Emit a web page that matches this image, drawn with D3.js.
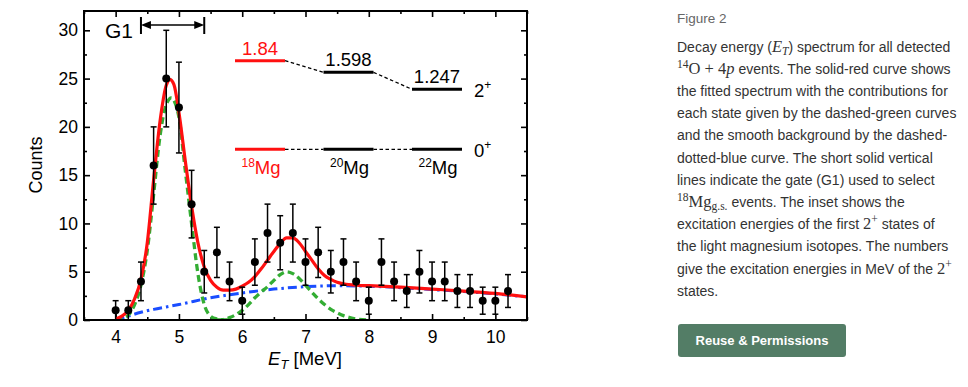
<!DOCTYPE html>
<html>
<head>
<meta charset="utf-8">
<script src="https://cdn.jsdelivr.net/npm/d3@7"></script>
<style>
  body { margin: 0; background: #fff; }
  #wrap { position: relative; width: 968px; height: 387px; overflow: hidden; }
  svg { position: absolute; left: 0; top: 0; }
  .cap { position: absolute; left: 677px; font-family: "Liberation Sans", Arial, sans-serif; color: #333; }
  .fig { font-size: 13.5px; color: #666; top: 11px; }
  .ln { font-size: 14px; white-space: nowrap; line-height: 16px; }
  .m { font-family: "Liberation Serif", "DejaVu Serif", serif; font-size: 16.5px; }
  .ln sup, .ln sub { font-size: 70%; line-height: 0; position: relative; vertical-align: baseline; }
  .ln sup { top: -0.5em; }
  .ln sub { top: 0.3em; }
  .btn { position: absolute; left: 678px; top: 324px; width: 168px; height: 33px; background: #537d66;
         border-radius: 3px; color: #fff; font: bold 13px "Liberation Sans", Arial, sans-serif;
         text-align: center; line-height: 33px; }
</style>
</head>
<body>
<div id="wrap">
  <svg id="chart" width="968" height="387"></svg>
  <div id="caption"></div>
  <div class="btn">Reuse &amp; Permissions</div>
</div>
<script>
// measured spectrum (counts per 0.2 MeV bin)
const energy = [4.0, 4.2, 4.4, 4.6, 4.8, 5.0, 5.2, 5.4, 5.6, 5.8, 6.0, 6.2, 6.4, 6.6, 6.8, 7.0,
                7.2, 7.4, 7.6, 7.8, 8.0, 8.2, 8.4, 8.6, 8.8, 9.0, 9.2, 9.4, 9.6, 9.8, 10.0, 10.2];
const counts = [1, 1, 4, 16, 25, 22, 12, 5, 7, 4, 2, 6, 9, 8, 9, 6,
                7, 5, 6, 4, 2, 6, 4, 3, 5, 4, 4, 3, 3, 2, 2, 3];
const errors = [1, 1, 2, 4, 5, 4.7, 3.5, 2.2, 2.6, 2, 1.4, 2.4, 3, 2.8, 3, 2.4,
                2.6, 2.2, 2.4, 2, 1.4, 2.4, 2, 1.7, 2.2, 2, 2, 1.7, 1.7, 1.4, 1.4, 1.7];

// total fit (solid red)
const fitX = [4.0, 4.1, 4.2, 4.3, 4.4, 4.5, 4.6, 4.7, 4.8, 4.86, 4.92, 5.0, 5.1, 5.2, 5.3, 5.4, 5.5,
              5.6, 5.7, 5.8, 5.9, 6.0, 6.1, 6.2, 6.3, 6.4, 6.5, 6.6, 6.7, 6.8, 6.9, 7.0, 7.1, 7.2,
              7.3, 7.4, 7.5, 7.6, 7.8, 8.0, 8.5, 9.0, 9.5, 10.0, 10.5];
const fitY = [0.1, 0.4, 1.0, 2.2, 4.2, 8.0, 14.5, 20.5, 24.3, 24.9, 24.4, 21.5, 16.5, 11.8, 8.0, 5.5, 4.1,
              3.4, 3.1, 3.1, 3.2, 3.5, 3.9, 4.5, 5.3, 6.2, 7.1, 7.9, 8.5, 8.5, 8.0, 7.1, 6.2, 5.3,
              4.6, 4.2, 3.9, 3.75, 3.6, 3.55, 3.4, 3.2, 3.0, 2.75, 2.4];

// ground-state component (dashed green)
const gsX = [4.0, 4.1, 4.2, 4.3, 4.4, 4.5, 4.6, 4.7, 4.8, 4.88, 4.95, 5.0, 5.1, 5.2, 5.3, 5.4, 5.5, 5.6, 5.7, 5.8];
const gsY = [0, 0.15, 0.5, 1.6, 3.6, 7.2, 13, 19, 22.3, 23, 22.3, 21, 15.5, 10, 4.8, 1.6, 0.4, 0.1, 0.02, 0];

// 2+ component (dashed green)
const exX = [5.6, 5.7, 5.8, 5.9, 6.0, 6.1, 6.2, 6.3, 6.4, 6.5, 6.6, 6.7, 6.8, 6.9, 7.0,
             7.1, 7.2, 7.3, 7.4, 7.5, 7.6, 7.7, 7.8, 7.9, 8.0];
const exY = [0, 0.05, 0.25, 0.55, 1.0, 1.6, 2.3, 2.9, 3.45, 4.1, 4.7, 5.0, 4.8, 4.3, 3.6,
             2.9, 2.2, 1.6, 1.1, 0.75, 0.45, 0.25, 0.1, 0.03, 0];

// smooth background (dash-dotted blue)
const bgX = [4.0, 4.2, 4.4, 4.6, 4.8, 5.0, 5.5, 6.0, 6.5, 7.0, 7.5, 8.0, 8.5, 9.0, 9.5, 10.0, 10.5];
const bgY = [0, 0.4, 0.8, 1.1, 1.35, 1.6, 2.3, 2.8, 3.2, 3.45, 3.55, 3.5, 3.35, 3.15, 2.95, 2.7, 2.4];

// gate G1
const gate = [4.4, 5.4];

// inset: first 2+ excitation energies (MeV)
const isotopes = ["18", "20", "22"];
const e2plus = [1.84, 1.598, 1.247];
const e2labels = ["1.84", "1.598", "1.247"];

const xTicks = [4, 5, 6, 7, 8, 9, 10];
const yTicks = [0, 5, 10, 15, 20, 25, 30];

const FONT = '"Liberation Sans", Arial, sans-serif';
const svg = d3.select('#chart');

const margin = { left: 84, top: 11, right: 527, bottom: 320 };
const x = d3.scaleLinear().domain([3.5, 10.5]).range([margin.left, margin.right]);
const y = d3.scaleLinear().domain([0, 32]).range([margin.bottom, margin.top]);

svg.append('defs').append('clipPath').attr('id', 'plot')
  .append('rect').attr('x', margin.left).attr('y', margin.top)
  .attr('width', margin.right - margin.left).attr('height', margin.bottom - margin.top);

// axes, ticks pointing inwards on every side
const minorX = d3.range(3.5, 10.51, 0.5).filter(v => v % 1 !== 0);
const minorY = d3.range(2.5, 32, 5);
const styleAxis = g => {
  g.select('.domain').remove();
  g.selectAll('line').attr('stroke', '#000').attr('stroke-width', 1.6);
  g.selectAll('text').attr('font-family', FONT).attr('font-size', 17.5).attr('fill', '#000');
};
svg.append('g').attr('transform', `translate(0,${margin.bottom})`)
  .call(d3.axisBottom(x).tickValues(xTicks).tickSize(-6).tickPadding(11).tickFormat(d3.format('d'))).call(styleAxis);
svg.append('g').attr('transform', `translate(0,${margin.bottom})`)
  .call(d3.axisBottom(x).tickValues(minorX).tickSize(-3).tickFormat('')).call(styleAxis);
svg.append('g').attr('transform', `translate(0,${margin.top})`)
  .call(d3.axisTop(x).tickValues(xTicks).tickSize(-6).tickFormat('')).call(styleAxis);
svg.append('g').attr('transform', `translate(0,${margin.top})`)
  .call(d3.axisTop(x).tickValues(minorX).tickSize(-3).tickFormat('')).call(styleAxis);
svg.append('g').attr('transform', `translate(${margin.left},0)`)
  .call(d3.axisLeft(y).tickValues(yTicks).tickSize(-6).tickPadding(6)).call(styleAxis);
svg.append('g').attr('transform', `translate(${margin.left},0)`)
  .call(d3.axisLeft(y).tickValues(minorY).tickSize(-3).tickFormat('')).call(styleAxis);
svg.append('g').attr('transform', `translate(${margin.right},0)`)
  .call(d3.axisRight(y).tickValues(yTicks).tickSize(-6).tickFormat('')).call(styleAxis);
svg.append('g').attr('transform', `translate(${margin.right},0)`)
  .call(d3.axisRight(y).tickValues(minorY).tickSize(-3).tickFormat('')).call(styleAxis);

// curves
const line = d3.line().curve(d3.curveMonotoneX).x(d => x(d[0])).y(d => y(d[1]));
const curves = svg.append('g').attr('clip-path', 'url(#plot)');
curves.append('path').attr('d', line(d3.zip(bgX, bgY)))
  .attr('fill', 'none').attr('stroke', '#1a4dff').attr('stroke-width', 3).attr('stroke-dasharray', '9,4,2.5,4');
[d3.zip(gsX, gsY), d3.zip(exX, exY)].forEach(pts => {
  curves.append('path').attr('d', line(pts))
    .attr('fill', 'none').attr('stroke', '#33ad33').attr('stroke-width', 3.3).attr('stroke-dasharray', '7,4');
});
curves.append('path').attr('d', line(d3.zip(fitX, fitY)))
  .attr('fill', 'none').attr('stroke', '#ff1010').attr('stroke-width', 3.2);

// data points with error bars
const pts = svg.append('g');
energy.forEach((e, i) => {
  const lo = y(Math.max(0, counts[i] - errors[i])), hi = y(counts[i] + errors[i]), cx = x(e);
  pts.append('line').attr('x1', cx).attr('x2', cx).attr('y1', lo).attr('y2', hi).attr('stroke', '#000').attr('stroke-width', 1.5);
  [lo, hi].forEach(v => pts.append('line').attr('x1', cx - 3).attr('x2', cx + 3).attr('y1', v).attr('y2', v)
    .attr('stroke', '#000').attr('stroke-width', 1.5));
  pts.append('circle').attr('cx', cx).attr('cy', y(counts[i])).attr('r', 4).attr('fill', '#000');
});

// frame
svg.append('rect').attr('x', margin.left).attr('y', margin.top)
  .attr('width', margin.right - margin.left).attr('height', margin.bottom - margin.top)
  .attr('fill', 'none').attr('stroke', '#000').attr('stroke-width', 2);

// axis titles
svg.append('text').attr('transform', 'translate(42,165) rotate(-90)').attr('text-anchor', 'middle')
  .attr('font-family', FONT).attr('font-size', 18).text('Counts');
const xt = svg.append('text').attr('x', 305).attr('y', 365).attr('text-anchor', 'middle')
  .attr('font-family', FONT).attr('font-size', 18.5);
xt.append('tspan').attr('font-style', 'italic').text('E');
xt.append('tspan').attr('font-style', 'italic').attr('font-size', 13).attr('dy', 4).text('T');
xt.append('tspan').attr('dy', -4).text(' [MeV]');

// gate G1 marker
const gy = 25;
svg.append('text').attr('x', 105).attr('y', 38).attr('font-family', FONT).attr('font-size', 21).text('G1');
gate.forEach(g => svg.append('line').attr('x1', x(g)).attr('x2', x(g)).attr('y1', 17).attr('y2', 34)
  .attr('stroke', '#000').attr('stroke-width', 2));
svg.append('line').attr('x1', x(gate[0]) + 4).attr('x2', x(gate[1]) - 4).attr('y1', gy).attr('y2', gy)
  .attr('stroke', '#000').attr('stroke-width', 1.6);
svg.append('path').attr('d', `M${x(gate[0])},${gy} l10,-4 v8 z`).attr('fill', '#000');
svg.append('path').attr('d', `M${x(gate[1])},${gy} l-10,-4 v8 z`).attr('fill', '#000');

// inset level scheme
const ix = d3.scaleBand().domain(isotopes).range([235, 462]).paddingInner(0.435);
const iy = d3.scaleLinear().domain([0, 1.84]).range([149.3, 60.7]);
const inset = svg.append('g');
const col = i => (i === 0 ? '#ff1010' : '#000');
[e2plus, isotopes.map(() => 0)].forEach(levels => {
  levels.forEach((v, i) => {
    inset.append('line').attr('x1', ix(isotopes[i])).attr('x2', ix(isotopes[i]) + ix.bandwidth())
      .attr('y1', iy(v)).attr('y2', iy(v)).attr('stroke', col(i)).attr('stroke-width', 3);
    if (i < levels.length - 1) {
      inset.append('line').attr('x1', ix(isotopes[i]) + ix.bandwidth()).attr('x2', ix(isotopes[i + 1]))
        .attr('y1', iy(v)).attr('y2', iy(levels[i + 1])).attr('stroke', '#000')
        .attr('stroke-width', 1.3).attr('stroke-dasharray', '3.5,2.5');
    }
  });
});
e2plus.forEach((v, i) => {
  inset.append('text').attr('x', ix(isotopes[i]) + ix.bandwidth() / 2).attr('y', iy(v) - 6)
    .attr('text-anchor', 'middle').attr('font-family', FONT).attr('font-size', 18.5).attr('fill', col(i)).text(e2labels[i]);
  const t = inset.append('text').attr('x', ix(isotopes[i]) + ix.bandwidth() / 2 + 1).attr('y', iy(0) + 25)
    .attr('text-anchor', 'middle').attr('font-family', FONT).attr('font-size', 18.5).attr('fill', col(i));
  t.append('tspan').attr('font-size', 12).attr('dy', -7).text(isotopes[i]);
  t.append('tspan').attr('dy', 7).text('Mg');
});
[[e2plus[2], '2'], [0, '0']].forEach(([v, s]) => {
  const t = inset.append('text').attr('x', 474).attr('y', iy(v) + 8).attr('font-family', FONT).attr('font-size', 18.5);
  t.append('tspan').text(s);
  t.append('tspan').attr('font-size', 12).attr('dy', -8).text('+');
});

// caption
const capLines = [
  'Decay energy (<span class="m"><i>E</i><sub><i>T</i></sub></span>) spectrum for all detected',
  '<span class="m"><sup>14</sup>O + 4<i>p</i></span> events. The solid-red curve shows',
  'the fitted spectrum with the contributions for',
  'each state given by the dashed-green curves',
  'and the smooth background by the dashed-',
  'dotted-blue curve. The short solid vertical',
  'lines indicate the gate (G1) used to select',
  '<span class="m"><sup>18</sup>Mg<sub>g.s.</sub></span> events. The inset shows the',
  'excitation energies of the first <span class="m">2<sup>+</sup></span> states of',
  'the light magnesium isotopes. The numbers',
  'give the excitation energies in MeV of the <span class="m">2<sup>+</sup></span>',
  'states.'
];
const cap = d3.select('#caption');
cap.append('div').attr('class', 'cap fig').text('Figure 2');
capLines.forEach((h, i) => {
  cap.append('div').attr('class', 'cap ln').style('top', (38.5 + i * 22.2) + 'px').html(h);
});
</script>
</body>
</html>
